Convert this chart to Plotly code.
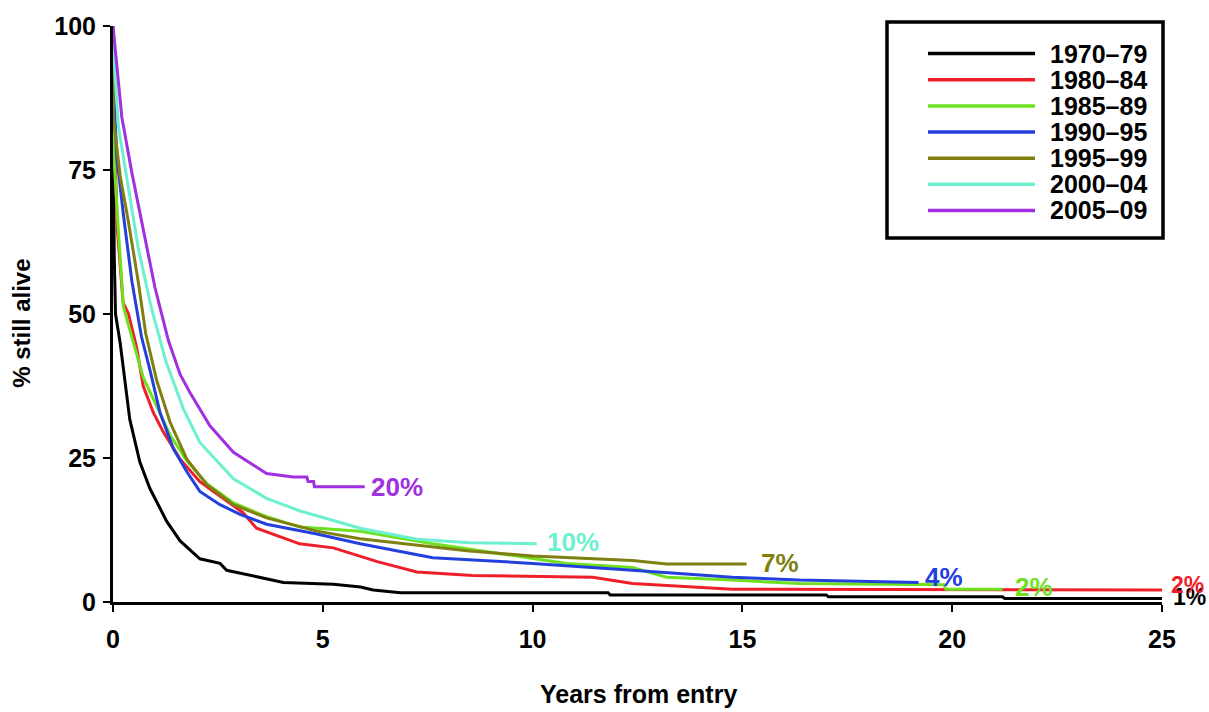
import plotly.graph_objects as go

# Survival after entry, by period of entry (years, % still alive)
periods = ["1970–79", "1980–84", "1985–89", "1990–95", "1995–99", "2000–04", "2005–09"]
colors = ["#000000", "#ee1f2a", "#6ee01e", "#2340dc", "#7f7f12", "#6cf0cf", "#a030e0"]

t_1970 = [0, 0.005, 0.03, 0.06, 0.17, 0.29, 0.4, 0.64, 0.88, 1.28, 1.6, 2.07, 2.55, 2.71, 3.26,
          4.06, 5.25, 5.9, 6.2, 6.85, 11.8, 11.85, 17.0, 17.05, 21.2, 21.25, 25]
s_1970 = [100, 80, 60, 50, 45, 37.5, 31.7, 24.3, 19.7, 14, 10.6, 7.5, 6.7, 5.5, 4.6,
          3.4, 3.1, 2.6, 2.1, 1.6, 1.6, 1.2, 1.2, 0.9, 0.9, 0.6, 0.6]

t_1980 = [0, 0.02, 0.1, 0.24, 0.37, 0.56, 0.72, 0.96, 1.2, 1.6, 2.07, 2.71, 3.1, 3.42, 4.06,
          4.45, 5.25, 5.9, 6.3, 7.24, 8.57, 11.43, 12.38, 14.76, 25]
s_1980 = [100, 85, 65, 52, 50, 44.3, 37.5, 32.9, 29.5, 24.8, 20.9, 17.5, 15.5, 12.8, 11.1,
          10.1, 9.4, 7.9, 7.0, 5.2, 4.6, 4.3, 3.2, 2.2, 2.1]

t_1985 = [0, 0.01, 0.13, 0.25, 0.45, 0.72, 1.04, 1.36, 1.76, 2.23, 2.87, 3.66, 4.46, 5.89,
          7.62, 9.21, 10.81, 12.38, 13.19, 14.76, 16.36, 19.8, 19.85, 21.2]
s_1985 = [100, 78.6, 64.2, 51.2, 46, 39, 34, 29, 24.5, 20.6, 17.2, 14.8, 13, 12.3,
          10.1, 8.4, 6.7, 6.0, 4.3, 3.8, 3.2, 3.0, 2.2, 2.2]

t_1990 = [0, 0.01, 0.09, 0.25, 0.45, 0.68, 0.88, 1.12, 1.44, 1.76, 2.07, 2.55, 3.03, 3.66,
          4.86, 5.89, 7.62, 10, 12.38, 14.76, 16.36, 19.2]
s_1990 = [100, 90, 77.4, 67.1, 55.7, 46, 40.3, 32.9, 26.6, 22.6, 19.2, 16.9, 15.2, 13.5,
          11.8, 10.1, 7.7, 6.7, 5.5, 4.3, 3.8, 3.4]

t_1995 = [0, 0.01, 0.17, 0.37, 0.6, 0.78, 1.04, 1.36, 1.76, 2.23, 2.87, 3.66, 4.86, 5.89,
          8.43, 10, 12.38, 13.19, 15.1]
s_1995 = [100, 84, 74, 65.9, 55.7, 46.6, 38.5, 31.2, 24.8, 20.4, 16.9, 14.6, 12.3, 11,
          8.9, 8.0, 7.2, 6.6, 6.6]

t_2000 = [0, 0.01, 0.13, 0.37, 0.6, 0.9, 1.25, 1.68, 2.07, 2.87, 3.66, 4.46, 5.89, 7.24, 8.5, 10.1]
s_2000 = [100, 95.7, 82.5, 71.7, 61.5, 51.5, 42, 33.5, 27.7, 21.4, 18, 15.8, 12.8, 10.9, 10.3, 10.1]

t_2005 = [0, 0.21, 0.45, 0.68, 1.0, 1.32, 1.6, 1.84, 2.31, 2.87, 3.18, 3.66, 4.3, 4.62, 4.65,
          4.78, 4.8, 6.0]
s_2005 = [100, 84.2, 74.5, 65.9, 54.6, 45.4, 39.5, 36.3, 30.6, 26, 24.5, 22.3, 21.7, 21.7, 20.9,
          20.9, 20, 20]

times = [t_1970, t_1980, t_1985, t_1990, t_1995, t_2000, t_2005]
survival = [s_1970, s_1980, s_1985, s_1990, s_1995, s_2000, s_2005]

# End-of-follow-up labels: (text, x, y, series index)
end_labels = [("1%", 25.0, 0.9, 0), ("2%", 25.0, 3.0, 1), ("2%", 21.45, 2.6, 2), ("4%", 19.3, 4.3, 3),
              ("7%", 15.4, 6.7, 4), ("10%", 10.3, 10.4, 5), ("20%", 6.1, 20.0, 6)]
label_shift = [9, 7, 0, 0, 0, 0, 0]
label_size = [23, 23, 26, 26, 26, 26, 26]

x_ticks = [0, 5, 10, 15, 20, 25]
y_ticks = [0, 25, 50, 75, 100]

W, H = 1209, 712
ML, MR, MT, MB = 113, 47, 18, 110
PW, PH = W - ML - MR, H - MT - MB


def px(xp):
    return (xp - ML) / PW


def py(yp):
    return (H - MB - yp) / PH


FONT = "Liberation Sans"

fig = go.Figure()
for name, col, tx, sy in zip(periods, colors, times, survival):
    fig.add_trace(go.Scatter(x=tx, y=sy, mode="lines", name=name,
                             line=dict(color=col, width=3), showlegend=False))

annotations = []
for (txt, xv, yv, k), sh, fs in zip(end_labels, label_shift, label_size):
    annotations.append(dict(text=txt, x=xv, y=yv, xref="x", yref="y", xanchor="left",
                            yanchor="middle", showarrow=False, xshift=sh,
                            font=dict(family=FONT, size=fs, color=colors[k], weight="bold")))

# Axis titles
annotations.append(dict(text="% still alive", x=px(22), y=py(320), xref="paper", yref="paper",
                        textangle=-90, showarrow=False, xanchor="center", yanchor="middle",
                        font=dict(family=FONT, size=24, color="black", weight="bold")))
annotations.append(dict(text="Years from entry", x=px(638), y=py(695), xref="paper", yref="paper",
                        showarrow=False, xanchor="center", yanchor="middle",
                        font=dict(family=FONT, size=25, color="black", weight="bold")))

# Boxed key
shapes = [dict(type="rect", xref="paper", yref="paper", x0=px(887), x1=px(1163),
               y0=py(233), y1=py(14), line=dict(color="black", width=3.5),
               fillcolor="white", layer="above")]
row0, step = 46, 26.5
for i, (name, col) in enumerate(zip(periods, colors)):
    yy = py(row0 + i * step)
    shapes.append(dict(type="line", xref="paper", yref="paper", x0=px(928), x1=px(1035),
                       y0=yy, y1=yy, line=dict(color=col, width=3.5), layer="above"))
    annotations.append(dict(text=name, x=px(1048), y=yy, xref="paper", yref="paper",
                            xanchor="left", yanchor="middle", showarrow=False,
                            font=dict(family=FONT, size=25, color="black", weight="bold")))

axis_font = dict(family=FONT, size=25, color="black", weight="bold")
fig.update_layout(
    width=W, height=H,
    margin=dict(l=ML, r=MR, t=MT, b=MB),
    paper_bgcolor="white", plot_bgcolor="white",
    xaxis=dict(range=[0, 25], tickvals=x_ticks, ticks="outside", ticklen=7, tickwidth=2,
               tickcolor="black", showline=True, linecolor="black", linewidth=3,
               showgrid=False, zeroline=False, tickfont=axis_font, ticklabelstandoff=6),
    yaxis=dict(range=[0, 100], tickvals=y_ticks, ticks="outside", ticklen=7, tickwidth=2,
               tickcolor="black", showline=True, linecolor="black", linewidth=3,
               showgrid=False, zeroline=False, tickfont=axis_font, ticklabelstandoff=2),
    annotations=annotations,
    shapes=shapes,
)

fig.write_html("out.html")
